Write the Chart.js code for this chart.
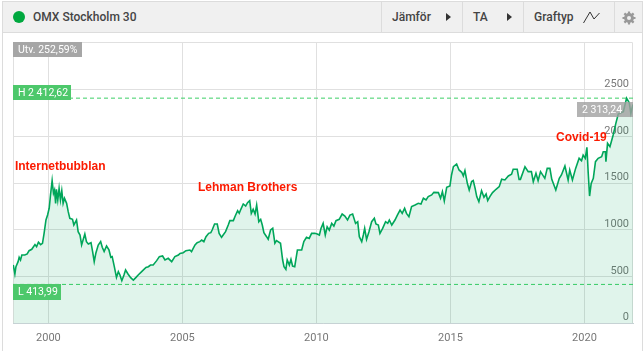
<!DOCTYPE html>
<html>
<head>
<meta charset="utf-8">
<script src="https://cdn.jsdelivr.net/npm/chart.js@4"></script>
<style>
html, body { margin: 0; padding: 0; background: #fff; }
body { width: 644px; height: 351px; position: relative; overflow: hidden; font-family: Roboto, sans-serif; }
#frame { position: absolute; left: 2px; top: 1px; width: 639px; height: 349px; border: 1px solid #dcdcdc; border-bottom: 0; }
#head { position: absolute; left: 3px; top: 2px; width: 639px; height: 30px; background: #f0f0f0; border-bottom: 1px solid #dcdcdc; color: #444; font-size: 12px; }
#head span, #head i, #head svg { position: absolute; }
#head span { top: 8px; line-height: 15px; font-weight: 500; white-space: nowrap; }
#head i { top: 0; width: 1px; height: 30px; background: #dcdcdc; }
#dot { left: 10px; top: 9px; width: 12px; height: 12px; border-radius: 50%; background: #00a83f; }
canvas { position: absolute; left: 0; top: 0; }
</style>
</head>
<body>
<div id="frame"></div>
<canvas id="myChart" width="644" height="351"></canvas>
<div id="head">
  <div id="dot" style="position:absolute"></div>
  <span style="left:30px">OMX Stockholm 30</span>
  <i style="left:378px"></i><span style="left:389px">Jämför</span>
  <svg style="left:442px;top:11px" width="7" height="8"><path d="M1 0L6 4L1 8Z" fill="#333"/></svg>
  <i style="left:459px"></i><span style="left:470px">TA</span>
  <svg style="left:503px;top:11px" width="7" height="8"><path d="M1 0L6 4L1 8Z" fill="#333"/></svg>
  <i style="left:520px"></i><span style="left:531px">Graftyp</span>
  <svg style="left:580px;top:8px" width="18" height="14"><path d="M0.5 13L7 2L11 9L16.5 3" fill="none" stroke="#333" stroke-width="1"/></svg>
  <i style="left:611px"></i>
  <svg style="left:619px;top:9px" width="14" height="14" viewBox="0 0 14 14"><circle cx="7" cy="7" r="3.6" fill="none" stroke="#999" stroke-width="2.6"/><path d="M7 0.5V13.5M0.5 7H13.5M2.4 2.4L11.6 11.6M11.6 2.4L2.4 11.6" stroke="#999" stroke-width="2.2"/><circle cx="7" cy="7" r="2" fill="#f0f0f0"/></svg>
</div>
<script>
const years = [
  1998.69,1998.75,1998.79,1998.87,1998.91,1998.96,1999.01,1999.12,1999.21,1999.28,1999.38,1999.50,1999.56,1999.63,1999.71,1999.78,1999.84,1999.91,1999.97,
  2000.03,2000.08,2000.14,2000.19,2000.23,2000.27,2000.30,2000.35,2000.40,2000.45,2000.50,2000.55,2000.60,2000.68,2000.74,2000.80,2000.90,2000.95,
  2001.05,2001.11,2001.18,2001.24,2001.36,2001.42,2001.49,2001.59,2001.65,2001.71,2001.77,2001.86,2001.95,2002.01,2002.08,2002.17,2002.26,2002.33,
  2002.38,2002.46,2002.54,2002.61,2002.67,2002.74,2002.82,2002.88,2002.97,2003.07,2003.17,2003.27,2003.35,2003.48,2003.64,2003.73,2003.81,2003.91,
  2004.04,2004.14,2004.26,2004.35,2004.47,2004.60,2004.72,2004.85,2004.91,2005.03,2005.13,2005.28,2005.34,2005.47,2005.55,2005.65,2005.72,2005.80,2005.88,2005.98,2006.06,
  2006.11,2006.20,2006.30,2006.37,2006.46,2006.52,2006.61,2006.71,2006.77,2006.90,2006.97,2007.06,2007.12,2007.18,2007.27,2007.36,2007.43,2007.51,2007.57,2007.64,2007.71,2007.77,2007.85,2007.92,2007.98,
  2008.04,2008.14,2008.20,2008.29,2008.37,2008.45,2008.51,2008.66,2008.74,2008.79,2008.86,2008.91,2008.99,2009.05,2009.11,2009.19,2009.29,2009.45,2009.53,2009.63,2009.73,2009.82,
  2009.94,2010.03,2010.11,2010.17,2010.25,2010.33,2010.40,2010.48,2010.57,2010.65,2010.73,2010.85,2010.96,2011.06,2011.16,2011.25,2011.35,2011.46,2011.54,2011.60,2011.69,2011.75,2011.80,2011.87,2011.96,
  2012.06,2012.16,2012.22,2012.31,2012.37,2012.47,2012.58,2012.66,2012.72,2012.81,2012.93,2013.02,2013.12,2013.20,2013.29,2013.36,2013.45,
  2013.55,2013.68,2013.80,2013.90,2013.99,2014.09,2014.17,2014.30,2014.38,2014.55,2014.63,2014.70,2014.77,2014.86,2014.98,2015.04,2015.11,2015.23,2015.32,2015.42,2015.48,2015.54,2015.63,2015.70,2015.79,2015.85,2015.92,2015.98,
  2016.06,2016.16,2016.25,2016.33,2016.39,2016.47,2016.57,2016.70,2016.82,2016.91,2017.03,2017.16,2017.28,2017.34,2017.49,2017.56,2017.61,2017.78,2017.90,2018.02,2018.09,2018.19,2018.27,2018.36,2018.52,2018.61,2018.71,2018.78,2018.93,
  2019.06,2019.14,2019.27,2019.39,2019.45,2019.55,2019.67,2019.80,2019.89,2019.95,2020.03,2020.09,2020.14,2020.19,2020.25,2020.33,2020.41,2020.51,2020.64,2020.70,2020.78,2020.80,2020.86,2020.95,
  2021.07,2021.17,2021.26,2021.45,2021.57,2021.67,2021.73,2021.81
];
const values = [
  623,526,605,658,705,676,730,730,741,776,791,841,819,866,841,855,962,1105,1159,
  1231,1374,1528,1392,1427,1284,1435,1320,1445,1320,1420,1284,1338,1284,1195,1123,1113,1052,
  1105,980,944,837,955,873,848,862,766,658,748,837,873,812,766,826,784,705,
  712,604,490,551,515,454,515,569,526,486,461,490,515,551,597,604,622,622,
  669,712,719,676,694,658,712,729,747,754,776,783,765,837,862,873,890,873,926,962,969,
  998,1062,1062,962,919,944,980,1051,1098,1098,1148,1205,1177,1220,1277,1255,1291,1313,1177,1220,1169,1266,1087,1112,1051,
  969,926,898,998,1016,855,883,855,676,604,576,676,622,683,611,604,783,783,873,919,908,962,
  962,955,944,1015,1069,944,1033,997,1069,1040,1098,1112,1169,1148,1105,1158,1169,1069,1087,926,872,944,1015,897,980,
  1087,1123,1062,1051,962,1015,1087,1069,1105,1051,1105,1158,1212,1176,1230,1176,1141,
  1249,1266,1284,1277,1338,1320,1356,1374,1402,1399,1338,1409,1309,1456,1470,1588,1678,1706,1642,1617,1578,1635,1499,1427,1517,1528,1445,1356,
  1302,1420,1349,1384,1313,1356,1399,1435,1463,1542,1535,1578,1596,1649,1649,1540,1541,1677,1624,1624,1516,1606,1527,1624,1552,1659,1659,1541,1427,
  1552,1588,1684,1534,1641,1534,1659,1767,1742,1802,1767,1885,1606,1362,1498,1552,1731,1767,1785,1838,1838,1731,1928,1892,
  2017,2142,2242,2267,2412.62,2364,2250,2345
];
const yTicks = [0, 500, 1000, 1500, 2000, 2500];
const xTicks = [2000, 2005, 2010, 2015, 2020];
const xMin = 1998.68, xMax = 2021.81, yMax = 3015;
const high = 2412.62, low = 413.99;
const highText = 'H 2 412,62', lowText = 'L 413,99', lastText = '2 313,24', changeText = 'Utv. 252,59%';
const noteLabels = ['Internetbubblan', 'Lehman Brothers', 'Covid-19'];
const noteYears = [1998.75, 2005.58, 2018.94];
const noteValues = [1674, 1456, 1985];

const gridColor = '#e0e0e0';

function badge(ctx, text, x, y, w, h, bg) {
  ctx.fillStyle = bg;
  ctx.fillRect(x, y, w, h);
  ctx.fillStyle = '#fff';
  ctx.font = '10.5px Roboto';
  ctx.textAlign = 'left';
  ctx.textBaseline = 'middle';
  ctx.fillText(text, x + 5, y + h / 2 + 0.5);
}

// top, left and right edge of the plot
const frameLines = {
  id: 'frameLines',
  beforeDatasetsDraw(chart) {
    const { ctx, chartArea: a } = chart;
    ctx.save();
    ctx.strokeStyle = gridColor;
    ctx.lineWidth = 1;
    ctx.beginPath();
    ctx.moveTo(a.left + 0.5, a.bottom);
    ctx.lineTo(a.left + 0.5, a.top + 0.5);
    ctx.lineTo(a.right - 0.5, a.top + 0.5);
    ctx.lineTo(a.right - 0.5, a.bottom);
    ctx.stroke();
    ctx.restore();
  }
};

// badges and red notes
const labels = {
  id: 'labels',
  afterDatasetsDraw(chart) {
    const { ctx, chartArea: a, scales: { x, y } } = chart;
    ctx.save();
    badge(ctx, changeText, a.left, a.top, 69, 15, '#a6a6a6');
    badge(ctx, highText, a.left, Math.round(y.getPixelForValue(high)) - 13, 58, 15, '#4dc86b');
    badge(ctx, lowText, a.left, Math.round(y.getPixelForValue(low)), 48, 16, '#4dc86b');
    badge(ctx, lastText, a.right - 56, 102, 56, 15, 'rgba(160,160,160,0.8)');
    ctx.font = 'bold 12px "Liberation Sans"';
    ctx.fillStyle = '#fb1a00';
    ctx.textAlign = 'left';
    ctx.textBaseline = 'middle';
    noteLabels.forEach((t, i) => {
      ctx.fillText(t, x.getPixelForValue(noteYears[i]), y.getPixelForValue(noteValues[i]));
    });
    ctx.restore();
  }
};

new Chart(document.getElementById('myChart').getContext('2d'), {
  type: 'line',
  plugins: [frameLines, labels],
  data: {
    datasets: [{
      data: years.map((yr, i) => ({ x: yr, y: values[i] })),
      borderColor: '#00a65a',
      backgroundColor: 'rgba(0,165,90,0.12)',
      borderWidth: 1.6,
      pointRadius: 0,
      tension: 0,
      fill: 'origin'
    }, {
      data: [{ x: xMin, y: high }, { x: xMax, y: high }],
      borderColor: '#3ccf66',
      borderWidth: 1,
      borderDash: [4, 3],
      pointRadius: 0,
      fill: false
    }, {
      data: [{ x: xMin, y: low }, { x: xMax, y: low }],
      borderColor: '#3ccf66',
      borderWidth: 1,
      borderDash: [4, 3],
      pointRadius: 0,
      fill: false
    }]
  },
  options: {
    responsive: false,
    animation: false,
    layout: { padding: { left: 13, right: 11, top: 42, bottom: 0 } },
    plugins: { legend: { display: false }, tooltip: { enabled: false } },
    scales: {
      x: {
        type: 'linear',
        min: xMin,
        max: xMax,
        afterFit(scale) { scale.height = 28; },
        afterBuildTicks(scale) { scale.ticks = xTicks.map(v => ({ value: v })); },
        border: { color: '#c6d2d4' },
        grid: { color: gridColor, drawTicks: false },
        ticks: {
          autoSkip: false,
          maxRotation: 0,
          padding: 9,
          color: '#777',
          font: { family: 'Roboto', size: 11 },
          callback: v => String(v)
        }
      },
      y: {
        position: 'right',
        min: 0,
        max: yMax,
        afterFit(scale) { scale.width = 0; },
        afterBuildTicks(scale) { scale.ticks = yTicks.map(v => ({ value: v })); },
        border: { display: false },
        grid: { color: gridColor, drawTicks: false },
        ticks: {
          mirror: true,
          padding: -4,
          labelOffset: -5.5,
          color: '#777',
          font: { family: 'Roboto', size: 11 },
          callback: v => String(v)
        }
      }
    }
  }
});
</script>
</body>
</html>
